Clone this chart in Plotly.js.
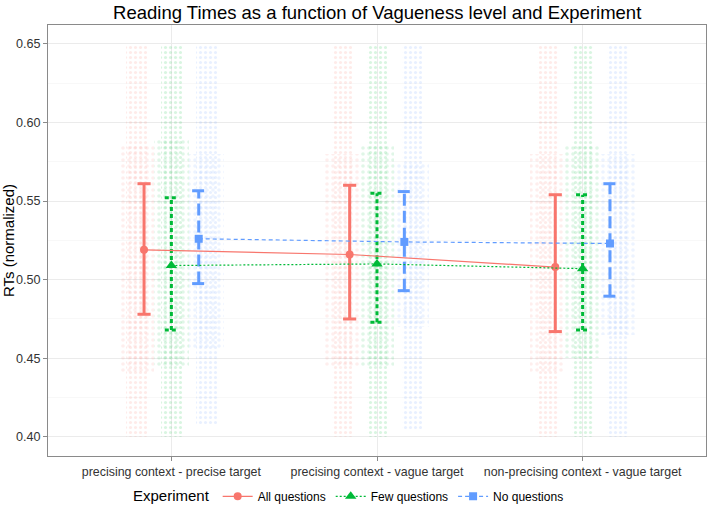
<!DOCTYPE html>
<html>
<head>
<meta charset="utf-8">
<script src="https://cdn.plot.ly/plotly-3.0.1.min.js"></script>
<style>
  html, body { margin: 0; padding: 0; background: #fff; }
  #chart { width: 707px; height: 509px; }
</style>
</head>
<body>
<div id="chart"></div>
<script>
// conditions on the x axis
var categories = ['precising context - precise target', 'precising context - vague target', 'non-precising context - vague target'];
var seriesNames = ['All questions', 'Few questions', 'No questions'];

// means and error bar ends
var allMean = [0.519, 0.516, 0.508];
var allLow  = [0.478, 0.475, 0.467];
var allHigh = [0.561, 0.560, 0.554];

var fewMean = [0.509, 0.510, 0.507];
var fewLow  = [0.468, 0.473, 0.468];
var fewHigh = [0.552, 0.555, 0.554];

var noMean = [0.526, 0.524, 0.523];
var noLow  = [0.4975, 0.493, 0.4895];
var noHigh = [0.5565, 0.556, 0.561];

// extent of the faint raw-data clouds (whole spread and the dense middle)
var allCloudLow = [0.400, 0.400, 0.400], allCloudHigh = [0.650, 0.650, 0.650];
var fewCloudLow = [0.400, 0.400, 0.400], fewCloudHigh = [0.650, 0.650, 0.650];
var noCloudLow  = [0.407, 0.404, 0.400], noCloudHigh  = [0.650, 0.650, 0.650];
var allCoreLow = [0.440, 0.445, 0.440], allCoreHigh = [0.585, 0.580, 0.580];
var fewCoreLow = [0.445, 0.445, 0.450], fewCoreHigh = [0.590, 0.585, 0.585];
var noCoreLow  = [0.455, 0.470, 0.465], noCoreHigh  = [0.580, 0.575, 0.580];

var colors = ['#F8766D', '#00BA38', '#619CFF'];
var symbols = ['circle', 'triangle-up', 'square'];
var barDash = ['solid', '4px,3px', '12px,5px'];
var lineDash = ['solid', '2px,2px', '4px,3px'];
var dodge = [-0.133, 0, 0.133];
var cloudShift = [-0.17, 0, 0.17];
var capHalf = 0.032;

var means = [allMean, fewMean, noMean];
var lows = [allLow, fewLow, noLow];
var highs = [allHigh, fewHigh, noHigh];
var cloudLows = [allCloudLow, fewCloudLow, noCloudLow];
var cloudHighs = [allCloudHigh, fewCloudHigh, noCloudHigh];
var coreLows = [allCoreLow, fewCoreLow, noCoreLow];
var coreHighs = [allCoreHigh, fewCoreHigh, noCoreHigh];

function rgba(hex, a) {
  var n = parseInt(hex.slice(1), 16);
  return 'rgba(' + (n >> 16) + ',' + ((n >> 8) & 255) + ',' + (n & 255) + ',' + a + ')';
}

var catX = categories.map(function (c, i) { return i + 1; });
var traces = [];

// faint clouds
seriesNames.forEach(function (name, s) {
  var xs = catX.map(function (x) { return x + cloudShift[s]; });
  traces.push({
    type: 'bar', x: xs, base: cloudLows[s],
    y: cloudHighs[s].map(function (h, i) { return h - cloudLows[s][i]; }),
    width: 0.10, showlegend: false, hoverinfo: 'skip',
    marker: { color: rgba(colors[s], 0.03), line: { width: 0 },
      pattern: { shape: '.', fgcolor: colors[s], fgopacity: 0.15, size: 5, solidity: 0.3 } }
  });
  traces.push({
    type: 'bar', x: xs, base: coreLows[s],
    y: coreHighs[s].map(function (h, i) { return h - coreLows[s][i]; }),
    width: 0.17, showlegend: false, hoverinfo: 'skip',
    marker: { color: rgba(colors[s], 0.035), line: { width: 0 },
      pattern: { shape: '.', fgcolor: colors[s], fgopacity: 0.12, size: 6, solidity: 0.28 } }
  });
});

// error bars drawn as line segments so they can be dashed
seriesNames.forEach(function (name, s) {
  var ex = [], ey = [];
  catX.forEach(function (x, i) {
    var xc = x + dodge[s];
    ex.push(xc, xc, null, xc - capHalf, xc + capHalf, null, xc - capHalf, xc + capHalf, null);
    ey.push(lows[s][i], highs[s][i], null, highs[s][i], highs[s][i], null, lows[s][i], lows[s][i], null);
  });
  traces.push({
    type: 'scatter', mode: 'lines', x: ex, y: ey, showlegend: false, hoverinfo: 'skip',
    line: { color: colors[s], width: 3, dash: barDash[s] }
  });
});

// means joined across conditions
seriesNames.forEach(function (name, s) {
  traces.push({
    type: 'scatter', mode: 'lines+markers', name: name,
    x: catX.map(function (x) { return x + dodge[s]; }), y: means[s],
    line: { color: colors[s], width: 1.2, dash: lineDash[s] },
    marker: { color: colors[s], symbol: symbols[s], size: s === 1 ? 10 : 8 }
  });
});

var layout = {
  width: 707, height: 509,
  margin: { l: 48, r: 1, t: 25, b: 53 },
  paper_bgcolor: '#ffffff', plot_bgcolor: '#ffffff',
  font: { family: 'Liberation Sans, Arial, sans-serif', size: 12, color: '#333333' },
  title: { text: 'Reading Times as a function of Vagueness level and Experiment',
    font: { size: 18.5, color: '#000000' }, x: 0.5335, xanchor: 'center', y: 0.976, yanchor: 'middle' },
  barmode: 'overlay', bargap: 0,
  xaxis: { range: [0.4, 3.6], tickvals: catX, ticktext: categories, zeroline: false,
    showgrid: true, gridcolor: '#EBEBEB', gridwidth: 1,
    showline: true, mirror: true, linecolor: '#8a8a8a', linewidth: 1,
    ticks: 'outside', ticklen: 4, tickcolor: '#8a8a8a',
    tickfont: { size: 12.4, color: '#333333' } },
  yaxis: { range: [0.3879, 0.6619], tickvals: [0.40, 0.45, 0.50, 0.55, 0.60, 0.65],
    ticktext: ['0.40', '0.45', '0.50', '0.55', '0.60', '0.65'], zeroline: false,
    showgrid: true, gridcolor: '#EBEBEB', gridwidth: 1,
    minor: { tickvals: [0.425, 0.475, 0.525, 0.575, 0.625], showgrid: true, gridcolor: '#F3F3F3', gridwidth: 0.6, ticks: '' },
    showline: true, mirror: true, linecolor: '#8a8a8a', linewidth: 1,
    ticks: 'outside', ticklen: 4, tickcolor: '#8a8a8a',
    tickfont: { size: 12.6, color: '#333333' },
    title: { text: 'RTs (normalized)', font: { size: 15, color: '#000000' }, standoff: 4 } },
  legend: { orientation: 'h', xref: 'container', yref: 'container', x: 0.495, xanchor: 'center',
    y: 0.024, yanchor: 'middle', font: { size: 12, color: '#000000' },
    title: { text: 'Experiment', font: { size: 15, color: '#000000' } } },
  showlegend: true
};

Plotly.newPlot('chart', traces, layout, { displayModeBar: false, staticPlot: true });
</script>
</body>
</html>
